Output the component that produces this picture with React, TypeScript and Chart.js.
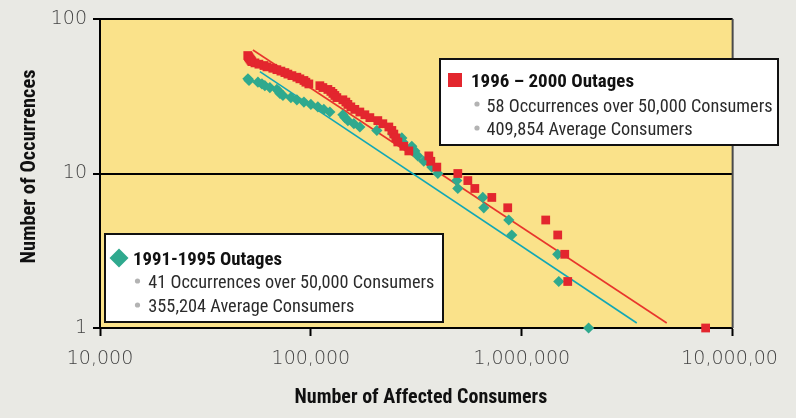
import React, { useEffect, useRef } from "react";
import { Chart, registerables } from "chart.js";

Chart.register(...registerables);

// ---- Data ----
const xTickValues = [10000, 100000, 1000000, 10000000];
const xTickLabels = ["10,000", "100,000", "1,000,000", "10,000,00 "];
const yTickValues = [1, 10, 100];
const yTickLabels = ["1", "10", "100"];

// 1996 – 2000 outages: consumers affected (sorted), and cumulative occurrences
const consumers9600 = [
  50200, 50600, 51000, 51500, 52000, 52500, 54300, 56700, 59900, 61900,
  66000, 69000, 72100, 75300, 77800, 81300, 85800, 88700, 92700, 94700,
  97800, 110300, 114000, 120400, 124400, 127200, 129900, 132800, 141800, 146500,
  149800, 154700, 161600, 170700, 180300, 190400, 207700, 219400, 234300, 242100,
  247400, 252800, 258400, 275900, 291400, 362500, 370500, 395600, 497500, 555000,
  599000, 721000, 858000, 1299000, 1481000, 1599000, 1652000, 7447000,
];
const occurrences9600 = [
  58, 57, 56, 55, 54, 53, 52, 51, 50, 49, 48, 47, 46, 45, 44, 43, 42, 41, 40, 39,
  38, 37, 36, 35, 34, 33, 32, 31, 30, 29, 28, 27, 26, 25, 24, 23, 22, 21, 20, 19,
  18, 17, 16, 15, 14, 13, 12, 11, 10, 9, 8, 7, 6, 5, 4, 3, 2, 1,
];

// 1991-1995 outages
const consumers9195 = [
  50300, 50900, 56100, 58600, 60500, 63900, 69000, 70500, 71300, 73700,
  80400, 85800, 92700, 100000, 107900, 115200, 123000, 141800, 144900, 149800,
  159900, 170700, 205500, 244700, 270000, 272900, 301000, 311100, 321500, 343100,
  374600, 400000, 492000, 497500, 653500, 660700, 867800, 896700, 1481000, 1498000,
  2075000,
];
const occurrences9195 = [
  41, 40, 39, 38, 37, 36, 35, 34, 33, 32, 31, 30, 29, 28, 27, 26, 25, 24, 23, 22,
  21, 20, 19, 18, 17, 16, 15, 14, 13, 12, 11, 10, 9, 8, 7, 6, 5, 4, 3, 2, 1,
];

// Trend lines (end points)
const trendConsumers9600 = [53100, 4870000];
const trendOccurrences9600 = [63, 1.077];
const trendConsumers9195 = [57300, 3510000];
const trendOccurrences9195 = [45.6, 1.077];

const legendTitles = ["1996 – 2000 Outages", "1991-1995 Outages"];
const legendLines9600 = ["58 Occurrences over 50,000 Consumers", "409,854 Average Consumers"];
const legendLines9195 = ["41 Occurrences over 50,000 Consumers", "355,204 Average Consumers"];

const xTitle = "  Number of Affected Consumers";
const yTitle = "   Number of Occurrences";

// ---- Styles ----
const RED = "#E3262E";
const RED_LINE = "#E8352C";
const GREEN = "#2FA98E";
const TEAL_LINE = "#12A7B6";
const YELLOW = "#FAE28A";
const GRAY_BG = "#E9E9E4";
const TICK_FONT = "'DejaVu Sans', sans-serif";
const NARROW = "'Liberation Sans Narrow', 'Roboto Condensed', Roboto, 'Liberation Sans', sans-serif";

function pts(xs: number[], ys: number[]) {
  return xs.map((x, i) => ({ x, y: ys[i] }));
}

function fitText(
  ctx: CanvasRenderingContext2D,
  text: string,
  x: number,
  baseline: number,
  width: number,
  font: string,
  color: string
) {
  ctx.save();
  ctx.font = font;
  const w = ctx.measureText(text).width || 1;
  const s = width / w;
  ctx.translate(x, baseline);
  ctx.scale(s, 1);
  ctx.fillStyle = color;
  ctx.textAlign = "left";
  ctx.textBaseline = "alphabetic";
  ctx.fillText(text, 0, 0);
  ctx.restore();
}

function drawBullet(ctx: CanvasRenderingContext2D, x: number, y: number) {
  ctx.save();
  ctx.fillStyle = "#B3B3B3";
  ctx.beginPath();
  ctx.arc(x, y, 2.6, 0, Math.PI * 2);
  ctx.fill();
  ctx.restore();
}

function drawBox(ctx: CanvasRenderingContext2D, l: number, t: number, r: number, b: number) {
  ctx.save();
  ctx.fillStyle = "#FFFFFF";
  ctx.fillRect(l, t, r - l, b - t);
  ctx.strokeStyle = "#111111";
  ctx.lineWidth = 2;
  ctx.strokeRect(l + 1, t + 1, r - l - 2, b - t - 2);
  ctx.restore();
}

const decorPlugin = {
  id: "decor",
  beforeDraw(chart: any) {
    const { ctx, chartArea } = chart;
    ctx.save();
    ctx.fillStyle = GRAY_BG;
    ctx.fillRect(0, 0, chart.width, chart.height);
    ctx.fillStyle = YELLOW;
    ctx.fillRect(chartArea.left, chartArea.top, chartArea.right - chartArea.left, chartArea.bottom - chartArea.top);
    ctx.restore();
  },
  afterDraw(chart: any) {
    const { ctx, chartArea } = chart;
    // right frame line
    ctx.save();
    ctx.strokeStyle = "#4a4a4a";
    ctx.lineWidth = 2;
    ctx.beginPath();
    ctx.moveTo(chartArea.right, chartArea.top);
    ctx.lineTo(chartArea.right, chartArea.bottom);
    ctx.stroke();
    ctx.restore();

    const boldFont = `bold 19px ${NARROW}`;
    const regFont = `18px ${NARROW}`;

    // Legend 1996 - 2000
    drawBox(ctx, 439, 58, 779, 146);
    ctx.save();
    ctx.fillStyle = RED;
    ctx.fillRect(448, 73, 14, 14);
    ctx.restore();
    fitText(ctx, legendTitles[0], 471, 87, 163, boldFont, "#111111");
    drawBullet(ctx, 477, 104);
    fitText(ctx, legendLines9600[0], 486.5, 111.5, 286, regFont, "#2b2b2b");
    drawBullet(ctx, 477, 128);
    fitText(ctx, legendLines9600[1], 486.5, 135, 206, regFont, "#2b2b2b");

    // Legend 1991-1995
    drawBox(ctx, 104, 233, 444, 323);
    ctx.save();
    ctx.fillStyle = GREEN;
    ctx.beginPath();
    ctx.moveTo(119, 248.5);
    ctx.lineTo(128.5, 258);
    ctx.lineTo(119, 267.5);
    ctx.lineTo(109.5, 258);
    ctx.closePath();
    ctx.fill();
    ctx.restore();
    fitText(ctx, legendTitles[1], 133, 265, 149, boldFont, "#111111");
    drawBullet(ctx, 137.5, 281);
    fitText(ctx, legendLines9195[0], 148.3, 288.3, 286, regFont, "#2b2b2b");
    drawBullet(ctx, 137.5, 305);
    fitText(ctx, legendLines9195[1], 148.3, 311.7, 206, regFont, "#2b2b2b");
  },
};

export default function App() {
  const ref = useRef<HTMLCanvasElement | null>(null);

  useEffect(() => {
    document.body.style.margin = "0";
    const canvas = ref.current;
    if (!canvas) return;
    const chart = new Chart(canvas, {
      type: "scatter",
      data: {
        datasets: [
          {
            label: legendTitles[0],
            data: pts(consumers9600, occurrences9600),
            pointStyle: "rect",
            pointRadius: 6.2,
            pointHoverRadius: 6.2,
            backgroundColor: RED,
            borderWidth: 0,
            clip: false,
          },
          {
            label: legendTitles[1],
            data: pts(consumers9195, occurrences9195),
            pointStyle: "rectRot",
            pointRadius: 5.6,
            pointHoverRadius: 5.6,
            backgroundColor: GREEN,
            borderWidth: 0,
            clip: false,
          },
          {
            label: "trend 1996-2000",
            data: pts(trendConsumers9600, trendOccurrences9600),
            showLine: true,
            pointRadius: 0,
            borderColor: RED_LINE,
            borderWidth: 1.6,
          },
          {
            label: "trend 1991-1995",
            data: pts(trendConsumers9195, trendOccurrences9195),
            showLine: true,
            pointRadius: 0,
            borderColor: TEAL_LINE,
            borderWidth: 1.6,
          },
        ],
      },
      options: {
        responsive: false,
        animation: false,
        devicePixelRatio: 1,
        layout: { padding: { left: 0, top: 19, right: 63, bottom: 0 } },
        plugins: {
          legend: { display: false },
          tooltip: { enabled: false },
        },
        scales: {
          x: {
            type: "logarithmic",
            min: 10000,
            max: 10000000,
            afterBuildTicks: (scale: any) => {
              scale.ticks = xTickValues.map((v) => ({ value: v }));
            },
            afterFit: (scale: any) => {
              scale.height = 90;
            },
            ticks: {
              autoSkip: false,
              maxRotation: 0,
              minRotation: 0,
              padding: 12,
              color: "#444444",
              font: { family: TICK_FONT, size: 19, weight: "200" as any },
              callback: (v: any) => xTickLabels[xTickValues.indexOf(Number(v))] ?? "",
            },
            grid: {
              display: true,
              drawOnChartArea: false,
              drawTicks: true,
              tickLength: 8,
              tickColor: "#000000",
              tickWidth: 2,
            },
            border: { display: true, color: "#000000", width: 2 },
            title: {
              display: true,
              text: xTitle,
              color: "#111111",
              font: { family: NARROW, size: 20, weight: "bold", lineHeight: 1 },
              padding: { top: 0, bottom: 10 },
            },
          },
          y: {
            type: "logarithmic",
            min: 1,
            max: 100,
            afterBuildTicks: (scale: any) => {
              scale.ticks = yTickValues.map((v) => ({ value: v }));
            },
            afterFit: (scale: any) => {
              scale.width = 100;
            },
            ticks: {
              padding: 6,
              color: "#444444",
              font: { family: TICK_FONT, size: 19, weight: "200" as any },
              callback: (v: any) => yTickLabels[yTickValues.indexOf(Number(v))] ?? "",
            },
            grid: {
              display: true,
              drawOnChartArea: true,
              drawTicks: true,
              tickLength: 7,
              color: "#000000",
              lineWidth: 2,
              tickColor: "#000000",
              tickWidth: 2,
            },
            border: { display: true, color: "#000000", width: 2 },
            title: {
              display: true,
              text: yTitle,
              color: "#111111",
              font: { family: NARROW, size: 20.5, weight: "bold", lineHeight: 1 },
              padding: { top: 20, bottom: 0 },
            },
          },
        },
      },
      plugins: [decorPlugin],
    } as any);
    return () => chart.destroy();
  }, []);

  return (
    <div style={{ width: 796, height: 418, overflow: "hidden", background: GRAY_BG }}>
      <canvas ref={ref} width={796} height={418} style={{ display: "block", width: 796, height: 418 }} />
    </div>
  );
}
